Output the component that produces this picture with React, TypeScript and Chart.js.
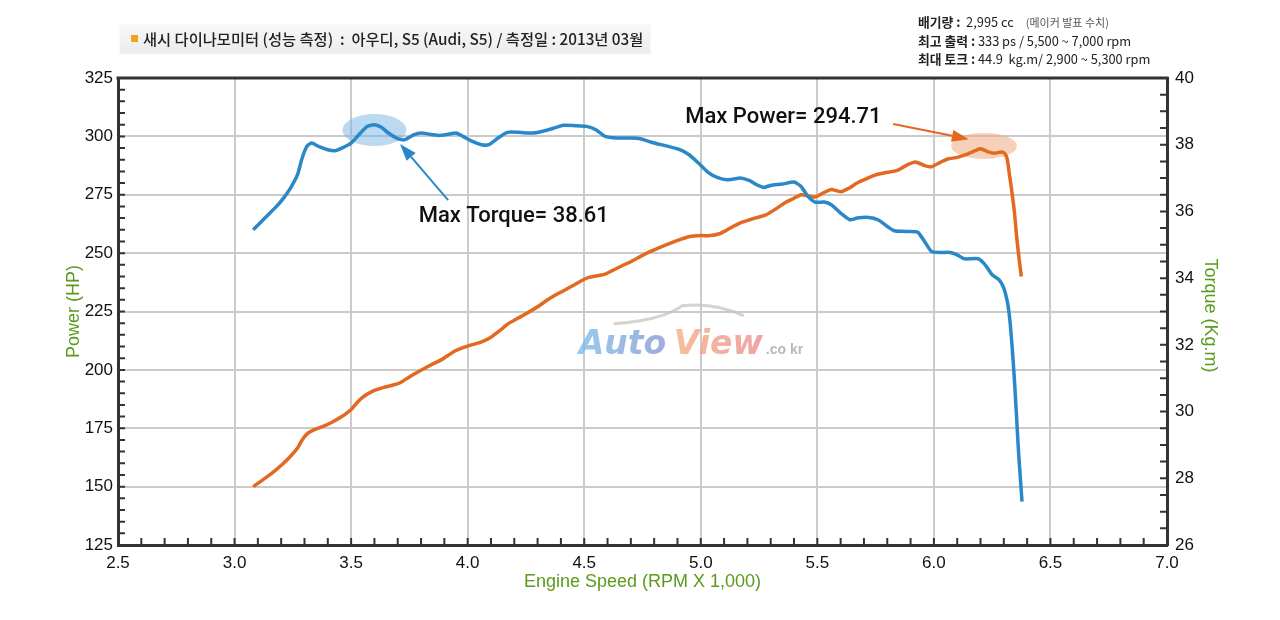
import { Chart, registerables } from "chart.js"
import React, { useEffect, useRef } from "react"

Chart.register(...registerables)

// engine speed (x1000 rpm) and torque (kg.m), blue curve
const torqueRpm = [
  3.08, 3.13, 3.18, 3.21, 3.24, 3.27, 3.29, 3.31, 3.33, 3.36, 3.4, 3.43, 3.46, 3.5, 3.54, 3.57, 3.6, 3.63, 3.66, 3.7,
  3.73, 3.77, 3.8, 3.85, 3.88, 3.92, 3.95, 3.98, 4.02, 4.06, 4.09, 4.13, 4.17, 4.22, 4.28, 4.33, 4.38, 4.41, 4.46, 4.51,
  4.55, 4.59, 4.64, 4.7, 4.74, 4.8, 4.86, 4.91, 4.95, 4.99, 5.03, 5.07, 5.11, 5.14, 5.17, 5.21, 5.24, 5.27, 5.3, 5.35,
  5.4, 5.43, 5.46, 5.49, 5.53, 5.56, 5.6, 5.64, 5.67, 5.72, 5.76, 5.8, 5.83, 5.88, 5.93, 5.96, 5.99, 6.03, 6.07, 6.1,
  6.13, 6.19, 6.22, 6.25, 6.28, 6.3, 6.315, 6.325, 6.335, 6.345, 6.355, 6.363, 6.37, 6.378,
]
const torqueValues = [
  35.45, 35.8, 36.15, 36.4, 36.7, 37.1, 37.6, 37.95, 38.05, 37.95, 37.85, 37.82, 37.9, 38.05, 38.35, 38.55, 38.6, 38.52, 38.35, 38.18,
  38.15, 38.3, 38.35, 38.3, 38.28, 38.32, 38.35, 38.25, 38.1, 38.0, 38.0, 38.2, 38.37, 38.37, 38.35, 38.42, 38.52, 38.58, 38.57, 38.55,
  38.45, 38.25, 38.2, 38.2, 38.18, 38.05, 37.95, 37.85, 37.7, 37.45, 37.18, 37.02, 36.95, 36.97, 37.0, 36.92, 36.8, 36.72, 36.78, 36.82,
  36.88, 36.75, 36.45, 36.28, 36.28, 36.2, 35.95, 35.75, 35.8, 35.82, 35.75, 35.55, 35.42, 35.4, 35.38, 35.1, 34.8, 34.77, 34.77, 34.7,
  34.58, 34.58, 34.4, 34.1, 33.95, 33.7, 33.3, 32.8, 32.0, 31.0, 29.8, 28.8, 28.1, 27.3,
]

// engine speed (x1000 rpm) and power (HP), orange curve
const powerRpm = [
  3.08, 3.13, 3.17, 3.21, 3.24, 3.27, 3.29, 3.31, 3.34, 3.38, 3.42, 3.46, 3.5, 3.53, 3.56, 3.6, 3.64, 3.68, 3.71, 3.75,
  3.79, 3.84, 3.89, 3.94, 3.98, 4.02, 4.06, 4.1, 4.14, 4.17, 4.21, 4.25, 4.3, 4.34, 4.38, 4.41, 4.45, 4.49, 4.52, 4.56,
  4.59, 4.62, 4.66, 4.7, 4.74, 4.78, 4.83, 4.87, 4.91, 4.95, 5.0, 5.04, 5.08, 5.11, 5.14, 5.17, 5.21, 5.24, 5.28, 5.32,
  5.36, 5.4, 5.43, 5.46, 5.49, 5.52, 5.56, 5.6, 5.63, 5.67, 5.71, 5.75, 5.79, 5.84, 5.88, 5.92, 5.96, 5.99, 6.03, 6.06,
  6.1, 6.14, 6.18, 6.2, 6.23, 6.26, 6.29, 6.305, 6.315, 6.325, 6.335, 6.345, 6.355, 6.365, 6.375,
]
const powerValues = [
  150, 153.5, 156.5, 160, 163, 166.5, 170, 172.5, 174.3, 175.8, 177.7, 180, 183, 186.5, 189, 191.2, 192.5, 193.5, 194.5, 197,
  199.3, 202, 204.5, 207.8, 209.5, 210.8, 212, 214, 217, 219.5, 221.8, 224, 227, 229.8, 232.3, 233.8, 236, 238.3, 239.6, 240.4,
  241, 242.5, 244.5, 246.3, 248.5, 250.5, 252.7, 254.3, 255.8, 257, 257.5, 257.5, 258.3, 259.8, 261.5, 263, 264.3, 265.2, 266.4, 268.8,
  271.5, 273.5, 275, 274.6, 274, 275.5, 277.2, 276.3, 277.5, 280, 281.8, 283.5, 284.4, 285.3, 287.5, 289, 287.5, 287, 289, 290.3,
  291, 292.3, 294, 294.7, 293.5, 292.8, 293.3, 292.5, 290, 283, 276, 268, 257, 248, 240,
]

const maxTorqueLabel = "Max Torque= 38.61"
const maxPowerLabel = "Max Power= 294.71"

const xTitle = "Engine Speed (RPM X 1,000)"
const yTitle = "Power (HP)"
const y2Title = "Torque (Kg.m)"

const headerTitle = "새시 다이나모미터 (성능 측정)  :  아우디, S5 (Audi, S5) / 측정일 : 2013년 03월"
const specLines = [
  ["배기량 :", "  2,995 cc", "(메이커 발표 수치)"],
  ["최고 출력 :", " 333 ps / 5,500 ~ 7,000 rpm", ""],
  ["최대 토크 :", " 44.9  kg.m/ 2,900 ~ 5,300 rpm", ""],
]

const BLUE = "#2b88c8"
const ORANGE = "#e2691f"
const GREEN = "#5b9a1b"
const TICK_FONT = { family: "'Liberation Sans', Arial, sans-serif", size: 17 }

const drawArrow = (ctx: CanvasRenderingContext2D, x1: number, y1: number, x2: number, y2: number, color: string) => {
  const ang = Math.atan2(y2 - y1, x2 - x1)
  const len = 17
  const wid = 6
  const bx = x2 - Math.cos(ang) * len
  const by = y2 - Math.sin(ang) * len
  ctx.strokeStyle = color
  ctx.fillStyle = color
  ctx.lineWidth = 2
  ctx.beginPath()
  ctx.moveTo(x1, y1)
  ctx.lineTo(bx, by)
  ctx.stroke()
  ctx.beginPath()
  ctx.moveTo(x2, y2)
  ctx.lineTo(bx + Math.sin(ang) * wid, by - Math.cos(ang) * wid)
  ctx.lineTo(bx - Math.sin(ang) * wid, by + Math.cos(ang) * wid)
  ctx.closePath()
  ctx.fill()
}

const decorPlugin = {
  id: "decor",
  beforeDatasetsDraw(chart: any) {
    const { ctx, scales } = chart
    const { x, y, y2 } = scales
    ctx.save()
    // highlight ellipses
    ctx.fillStyle = "rgba(120,180,225,0.5)"
    ctx.beginPath()
    ctx.ellipse(x.getPixelForValue(3.6), y2.getPixelForValue(38.44), 32, 16, 0, 0, Math.PI * 2)
    ctx.fill()
    ctx.fillStyle = "rgba(240,170,130,0.55)"
    ctx.beginPath()
    ctx.ellipse(x.getPixelForValue(6.215), y.getPixelForValue(295.9), 33, 13, 0, 0, Math.PI * 2)
    ctx.fill()

    // watermark
    const cx = x.getPixelForValue(4.97)
    const cy = y.getPixelForValue(212)
    ctx.globalAlpha = 0.75
    ctx.strokeStyle = "#c4c4c4"
    ctx.lineWidth = 3
    ctx.beginPath()
    ctx.moveTo(cx - 80, cy - 18)
    ctx.quadraticCurveTo(cx - 30, cy - 22, cx - 12, cy - 36)
    ctx.quadraticCurveTo(cx + 20, cy - 40, cx + 50, cy - 26)
    ctx.stroke()
    ctx.font = "italic bold 33px 'DejaVu Sans', sans-serif"
    ctx.textBaseline = "alphabetic"
    ctx.textAlign = "left"
    const g1 = ctx.createLinearGradient(cx - 115, 0, cx - 25, 0)
    g1.addColorStop(0, "#74b8e8")
    g1.addColorStop(1, "#7f8fd0")
    ctx.fillStyle = g1
    ctx.fillText("Auto", cx - 115, cy + 12)
    const g2 = ctx.createLinearGradient(cx - 20, 0, cx + 70, 0)
    g2.addColorStop(0, "#f3aa78")
    g2.addColorStop(1, "#ea8488")
    ctx.fillStyle = g2
    ctx.fillText("View", cx - 20, cy + 12)
    ctx.fillStyle = "#a0a0a0"
    ctx.font = "bold 14px 'Liberation Sans', sans-serif"
    ctx.fillText(".co kr", cx + 72, cy + 12)
    ctx.restore()
  },
  afterDraw(chart: any) {
    const { ctx, scales, chartArea } = chart
    const { x, y, y2 } = scales
    const { left, right, top, bottom } = chartArea
    ctx.save()
    // frame top
    ctx.strokeStyle = "#333"
    ctx.lineWidth = 3
    ctx.beginPath()
    ctx.moveTo(left - 1.5, top)
    ctx.lineTo(right + 1.5, top)
    ctx.stroke()

    // inward tick marks
    ctx.lineWidth = 2
    ctx.beginPath()
    x.ticks.forEach((t: any) => {
      const px = x.getPixelForValue(t.value)
      ctx.moveTo(px, bottom)
      ctx.lineTo(px, bottom - 7)
    })
    y.ticks.forEach((t: any) => {
      const py = y.getPixelForValue(t.value)
      ctx.moveTo(left, py)
      ctx.lineTo(left + 7, py)
    })
    y2.ticks.forEach((t: any) => {
      const py = y2.getPixelForValue(t.value)
      ctx.moveTo(right, py)
      ctx.lineTo(right - 7, py)
    })
    ctx.stroke()

    // annotations
    drawArrow(ctx, x.getPixelForValue(3.916), y2.getPixelForValue(36.34), x.getPixelForValue(3.71), y2.getPixelForValue(38.02), BLUE)
    drawArrow(ctx, x.getPixelForValue(5.825), y.getPixelForValue(305.3), x.getPixelForValue(6.15), y.getPixelForValue(298.8), ORANGE)
    ctx.fillStyle = "#111"
    ctx.font = "500 22px Roboto, sans-serif"
    ctx.textAlign = "left"
    ctx.textBaseline = "middle"
    ctx.fillText(maxTorqueLabel, x.getPixelForValue(3.79), y2.getPixelForValue(35.84))
    ctx.fillText(maxPowerLabel, x.getPixelForValue(4.933), y.getPixelForValue(308))

    // axis titles
    ctx.fillStyle = GREEN
    ctx.font = "18px 'Liberation Sans', sans-serif"
    ctx.textAlign = "center"
    ctx.fillText(xTitle, (left + right) / 2, bottom + 37)
    ctx.save()
    ctx.translate(left - 44, (top + bottom) / 2)
    ctx.rotate(-Math.PI / 2)
    ctx.fillText(yTitle, 0, 0)
    ctx.restore()
    ctx.save()
    ctx.translate(right + 43, (top + bottom) / 2 + 4)
    ctx.rotate(Math.PI / 2)
    ctx.fillText(y2Title, 0, 0)
    ctx.restore()
    ctx.restore()
  },
}

const DynoChart: React.FC = () => {
  const chartRef = useRef<HTMLCanvasElement>(null)
  const chartInstanceRef = useRef<Chart | null>(null)

  useEffect(() => {
    const ctx = chartRef.current?.getContext("2d")
    if (!ctx) return

    chartInstanceRef.current = new Chart(ctx, {
      type: "line",
      data: {
        datasets: [
          {
            label: "Torque",
            data: torqueRpm.map((r, i) => ({ x: r, y: torqueValues[i] })),
            borderColor: BLUE,
            borderWidth: 3.5,
            pointRadius: 0,
            tension: 0.2,
            yAxisID: "y2",
          },
          {
            label: "Power",
            data: powerRpm.map((r, i) => ({ x: r, y: powerValues[i] })),
            borderColor: ORANGE,
            borderWidth: 3.5,
            pointRadius: 0,
            tension: 0.2,
            yAxisID: "y",
          },
        ],
      },
      options: {
        responsive: false,
        animation: false,
        devicePixelRatio: 1,
        layout: { padding: { top: 78, left: 0, right: 0, bottom: 0 } },
        plugins: { legend: { display: false }, tooltip: { enabled: false }, title: { display: false } },
        scales: {
          x: {
            type: "linear",
            min: 2.5,
            max: 7.0,
            afterFit: (s: any) => {
              s.height = 75
            },
            ticks: {
              stepSize: 0.1,
              autoSkip: false,
              maxRotation: 0,
              padding: 8,
              color: "#111",
              font: TICK_FONT,
              callback: (v: any) => (Math.round(v * 10) % 5 === 0 ? Number(v).toFixed(1) : ""),
            },
            grid: {
              color: (c: any) => (c.tick && Math.round(c.tick.value * 10) % 5 === 0 ? "#cbcbcb" : "rgba(0,0,0,0)"),
              lineWidth: 2,
              drawTicks: false,
            },
            border: { display: true, color: "#333", width: 3 },
          },
          y: {
            position: "left",
            min: 125,
            max: 325,
            afterFit: (s: any) => {
              s.width = 118
            },
            ticks: {
              stepSize: 5,
              autoSkip: false,
              padding: 5,
              color: "#111",
              font: TICK_FONT,
              callback: (v: any) => (Math.round(v) % 25 === 0 ? String(Math.round(v)) : ""),
            },
            grid: {
              color: (c: any) => (c.tick && Math.round(c.tick.value) % 25 === 0 ? "#cbcbcb" : "rgba(0,0,0,0)"),
              lineWidth: 2,
              drawTicks: false,
            },
            border: { display: true, color: "#333", width: 3 },
          },
          y2: {
            position: "right",
            min: 26,
            max: 40,
            afterFit: (s: any) => {
              s.width = 113
            },
            ticks: {
              stepSize: 0.5,
              autoSkip: false,
              padding: 8,
              color: "#111",
              font: TICK_FONT,
              callback: (v: any) => (Math.abs(v - Math.round(v)) < 0.01 && Math.round(v) % 2 === 0 ? String(Math.round(v)) : ""),
            },
            grid: { display: false, drawTicks: false },
            border: { display: true, color: "#333", width: 3 },
          },
        },
      },
      plugins: [decorPlugin],
    } as any)

    return () => {
      chartInstanceRef.current?.destroy()
    }
  }, [])

  return (
    <div style={{ position: "absolute", left: 0, top: 0, width: 1280, height: 620, background: "#fff" }}>
      <canvas ref={chartRef} width={1280} height={620} style={{ position: "absolute", left: 0, top: 0 }} />
      <div
        style={{
          position: "absolute",
          left: 120,
          top: 24,
          width: 530,
          height: 29,
          background: "linear-gradient(to bottom, #f8f8f8, #ececec)",
          boxShadow: "0 1px 2px rgba(0,0,0,0.08)",
        }}
      >
        <div style={{ position: "absolute", left: 11, top: 11, width: 7, height: 7, background: "#f0a41e" }} />
        <div
          style={{
            position: "absolute",
            left: 23,
            top: 0,
            lineHeight: "29px",
            fontFamily: "'Noto Sans CJK KR', sans-serif",
            fontSize: 15.3,
            fontWeight: 500,
            color: "#222",
            whiteSpace: "pre",
          }}
        >
          {headerTitle}
        </div>
      </div>
      <div
        style={{
          position: "absolute",
          left: 918,
          top: 13,
          fontFamily: "'Noto Sans CJK KR', sans-serif",
          fontSize: 12.8,
          lineHeight: "18.5px",
          color: "#222",
          whiteSpace: "pre",
        }}
      >
        {specLines.map((l, i) => (
          <div key={i}>
            <span style={{ fontWeight: 700 }}>{l[0]}</span>
            <span>{l[1]}</span>
            {l[2] ? <span style={{ fontSize: 11, color: "#555", marginLeft: 12 }}>{l[2]}</span> : null}
          </div>
        ))}
      </div>
    </div>
  )
}

export default function App() {
  return <DynoChart />
}
